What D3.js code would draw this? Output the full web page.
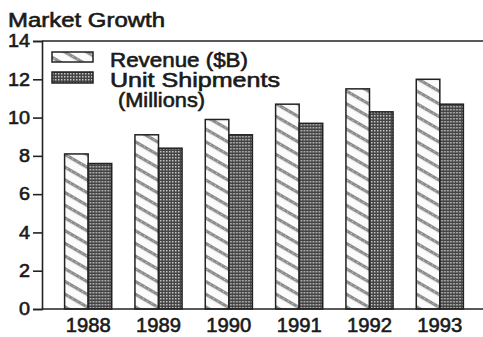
<!DOCTYPE html>
<html>
<head>
<meta charset="utf-8">
<script src="https://cdn.jsdelivr.net/npm/d3@7/dist/d3.min.js"></script>
<style>
  html, body { margin: 0; padding: 0; background: #fff; }
  svg { display: block; }
  text { font-family: "Liberation Sans", Arial, sans-serif; font-weight: normal;
         fill: #1a1a1a; stroke: #1a1a1a; stroke-width: 0.6px; }
</style>
</head>
<body>
<svg id="chart" width="483" height="337"></svg>
<script>
// Market growth by year
const years = ["1988", "1989", "1990", "1991", "1992", "1993"];
const revenue = [8.1, 9.1, 9.9, 10.7, 11.5, 12.0];          // $B
const shipments = [7.6, 8.4, 9.1, 9.7, 10.3, 10.7];         // millions of units
const seriesNames = ["Revenue ($B)", "Unit Shipments"];
const yTicks = [0, 2, 4, 6, 8, 10, 12, 14];

const svg = d3.select("#chart");
const W = 483;

const y = d3.scaleLinear().domain([0, 14]).range([309, 41]);
const x0 = d3.scaleBand().domain(years).range([53, 475])
  .paddingInner(0.33).paddingOuter(0.165);
const x1 = d3.scaleBand().domain(["rev", "ship"]).range([0, x0.bandwidth()]);

// fill patterns
const defs = svg.append("defs");
const hatch = defs.append("pattern")
  .attr("id", "hatch").attr("patternUnits", "userSpaceOnUse")
  .attr("width", 10).attr("height", 11)
  .attr("patternTransform", "rotate(30)");
hatch.append("rect").attr("width", 10).attr("height", 11).attr("fill", "#fbfbfb");
hatch.append("rect").attr("y", 0).attr("width", 10).attr("height", 3.2).attr("fill", "#8c8c8c");
hatch.append("rect").attr("x", 1).attr("y", 1).attr("width", 1).attr("height", 1).attr("fill", "#d0d0d0");
hatch.append("rect").attr("x", 6).attr("y", 1).attr("width", 1).attr("height", 1).attr("fill", "#d0d0d0");

const dots = defs.append("pattern")
  .attr("id", "dots").attr("patternUnits", "userSpaceOnUse")
  .attr("width", 3).attr("height", 3);
dots.append("rect").attr("width", 3).attr("height", 3).attr("fill", "#444");
dots.append("rect").attr("x", 1).attr("y", 1).attr("width", 1.5).attr("height", 1.5).attr("fill", "#c8c8c8");

// frame: top rule, left axis, baseline
const ink = "#222";
svg.append("line").attr("x1", 42).attr("x2", W).attr("y1", y(14)).attr("y2", y(14))
  .attr("stroke", ink).attr("stroke-width", 1.6);

// bars
const groups = svg.append("g").selectAll("g").data(years).join("g")
  .attr("transform", d => `translate(${x0(d)},0)`);

groups.append("rect")
  .attr("x", x1("rev")).attr("width", x1.bandwidth())
  .attr("y", (d, i) => y(revenue[i])).attr("height", (d, i) => y(0) - y(revenue[i]))
  .attr("fill", "url(#hatch)").attr("stroke", ink).attr("stroke-width", 1.5);

groups.append("rect")
  .attr("x", x1("ship")).attr("width", x1.bandwidth())
  .attr("y", (d, i) => y(shipments[i])).attr("height", (d, i) => y(0) - y(shipments[i]))
  .attr("fill", "url(#dots)").attr("stroke", ink).attr("stroke-width", 1.5);

// y axis
const yAxis = svg.append("g").attr("transform", "translate(42,0)")
  .call(d3.axisLeft(y).tickValues(yTicks).tickSize(9).tickPadding(3));
yAxis.select(".domain").attr("stroke", ink).attr("stroke-width", 1.6);
yAxis.selectAll(".tick line").attr("stroke", ink).attr("stroke-width", 1.6);
yAxis.selectAll(".tick text")
  .attr("font-size", 18).attr("fill", "#1a1a1a")
  .attr("font-family", null)
  .attr("textLength", d => String(d).length * 11)
  .attr("lengthAdjust", "spacingAndGlyphs");

// x axis
const xAxis = svg.append("g").attr("transform", `translate(0,${y(0)})`)
  .call(d3.axisBottom(x0).tickSize(0).tickPadding(9));
xAxis.select(".domain").remove();
xAxis.selectAll(".tick text")
  .attr("font-size", 20).attr("fill", "#1a1a1a")
  .attr("font-family", null)
  .attr("textLength", 45)
  .attr("lengthAdjust", "spacingAndGlyphs");
svg.append("line").attr("x1", 42).attr("x2", W).attr("y1", y(0)).attr("y2", y(0))
  .attr("stroke", ink).attr("stroke-width", 1.6);

// title
svg.append("text").attr("x", 8).attr("y", 27)
  .attr("font-size", 19.5).attr("textLength", 157).attr("lengthAdjust", "spacingAndGlyphs")
  .text("Market Growth");

// legend
const legend = svg.append("g");
legend.append("rect").attr("x", 52).attr("y", 52).attr("width", 41).attr("height", 10)
  .attr("fill", "url(#hatch)").attr("stroke", ink).attr("stroke-width", 1.5);
legend.append("rect").attr("x", 52).attr("y", 72).attr("width", 41).attr("height", 11)
  .attr("fill", "url(#dots)").attr("stroke", ink).attr("stroke-width", 1.5);
legend.append("text").attr("x", 110).attr("y", 67).attr("font-size", 19.5)
  .attr("textLength", 138).attr("lengthAdjust", "spacingAndGlyphs").text(seriesNames[0]);
legend.append("text").attr("x", 110).attr("y", 87).attr("font-size", 19.5)
  .attr("textLength", 170).attr("lengthAdjust", "spacingAndGlyphs").text(seriesNames[1]);
legend.append("text").attr("x", 118).attr("y", 107).attr("font-size", 19.5)
  .attr("textLength", 87).attr("lengthAdjust", "spacingAndGlyphs").text("(Millions)");
</script>
</body>
</html>
